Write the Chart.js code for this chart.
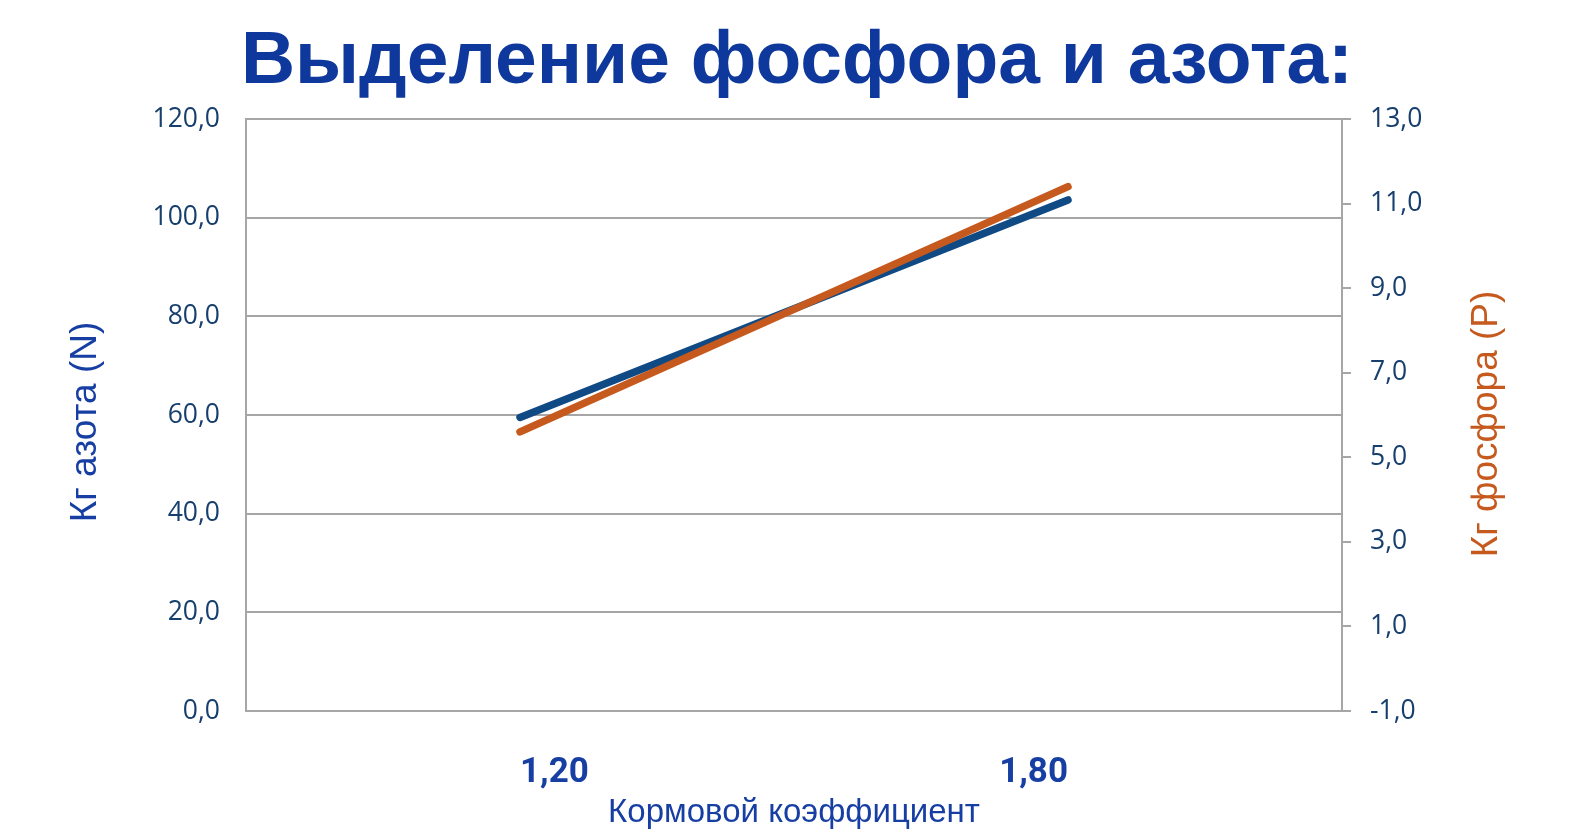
<!DOCTYPE html>
<html>
<head>
<meta charset="utf-8">
<script src="https://cdn.jsdelivr.net/npm/chart.js@4"></script>
<style>
  html, body { margin: 0; padding: 0; background: #ffffff; }
  #wrap { width: 1584px; height: 840px; }
</style>
</head>
<body>
<div id="wrap"><canvas id="c" width="1584" height="840"></canvas></div>
<script>
// ---- data ----
const chartTitle = 'Выделение фосфора и азота:';
const categories = ['1,20', '1,80'];
const nitrogenKg = [59.5, 103.6];
const phosphorusKg = [5.6, 11.4];
const nitrogenLabel = 'Кг азота (N)';
const phosphorusLabel = 'Кг фосфора (Р)';
const xLabel = 'Кормовой коэффициент';
const leftRange = [0, 120, 20];
const rightRange = [-1, 13, 2];

const TITLE_TXT = '#0f389c';
const BLUE_TXT = '#173fa3';
const TICK_TXT = '#173f6e';
const GRID = '#a6a6a6';
const N_COLOR = '#0f4a84';
const P_COLOR = '#c65a1e';

const fmt1 = v => Number(v).toFixed(1).replace('.', ',');

// rotated axis titles (both read bottom-to-top, as in the reference)
const axisTitlePlugin = {
  id: 'axisTitles',
  afterDraw(chart) {
    const ca = chart.chartArea;
    const ctx = chart.ctx;
    const midY = (ca.top + ca.bottom) / 2;
    const draw = (text, x, y, color) => {
      ctx.save();
      ctx.translate(x, y);
      ctx.rotate(-Math.PI / 2);
      ctx.font = '37px "Liberation Sans", Arial, sans-serif';
      ctx.fillStyle = color;
      ctx.textAlign = 'center';
      ctx.textBaseline = 'middle';
      ctx.fillText(text, 0, 0);
      ctx.restore();
    };
    draw(nitrogenLabel, ca.left - 160, midY + 7, BLUE_TXT);
    draw(phosphorusLabel, ca.right + 145, midY + 9, P_COLOR);
  }
};

new Chart(document.getElementById('c'), {
  type: 'line',
  data: {
    labels: categories,
    datasets: [
      {
        label: nitrogenLabel,
        data: nitrogenKg,
        yAxisID: 'y',
        borderColor: N_COLOR,
        backgroundColor: N_COLOR,
        borderWidth: 7.5,
        borderCapStyle: 'round',
        pointRadius: 0,
        tension: 0,
        order: 2
      },
      {
        label: phosphorusLabel,
        data: phosphorusKg,
        yAxisID: 'y2',
        borderColor: P_COLOR,
        backgroundColor: P_COLOR,
        borderWidth: 7.5,
        borderCapStyle: 'round',
        pointRadius: 0,
        tension: 0,
        order: 1
      }
    ]
  },
  options: {
    responsive: false,
    devicePixelRatio: 1,
    animation: false,
    layout: { padding: { left: 10, right: 0, top: 0, bottom: 0 } },
    plugins: {
      legend: { display: false },
      tooltip: { enabled: false },
      title: {
        display: true,
        text: chartTitle,
        color: TITLE_TXT,
        font: { family: '"Liberation Sans", Arial, sans-serif', size: 75, weight: 'bold', lineHeight: 1 },
        padding: { top: 25, bottom: 19 }
      }
    },
    scales: {
      x: {
        type: 'category',
        offset: true,
        grid: { display: false, drawTicks: false },
        border: { display: true, color: GRID, width: 2 },
        ticks: {
          align: 'inner',
          padding: 41,
          color: BLUE_TXT,
          font: { family: 'Roboto, "DejaVu Sans Condensed", Arial, sans-serif', size: 35, weight: 'bold' }
        },
        title: {
          display: true,
          text: xLabel,
          color: BLUE_TXT,
          font: { family: '"Liberation Sans", Arial, sans-serif', size: 33 },
          padding: { top: 0, bottom: 7 }
        },
        afterFit(scale) { scale.height = 129; }
      },
      y: {
        position: 'left',
        min: leftRange[0],
        max: leftRange[1],
        ticks: {
          stepSize: leftRange[2],
          padding: 26,
          color: TICK_TXT,
          font: { family: '"Open Sans", "Noto Sans", sans-serif', size: 26.5 },
          callback: v => fmt1(v)
        },
        grid: { color: GRID, lineWidth: 2, drawTicks: false },
        border: { display: true, color: GRID, width: 2 },
        afterFit(scale) { scale.width = 236; }
      },
      y2: {
        position: 'right',
        min: rightRange[0],
        max: rightRange[1],
        ticks: {
          stepSize: rightRange[2],
          padding: 19,
          color: TICK_TXT,
          font: { family: '"Open Sans", "Noto Sans", sans-serif', size: 26.5 },
          callback: v => fmt1(v)
        },
        grid: { drawOnChartArea: false, drawTicks: true, tickLength: 9, color: GRID, lineWidth: 2 },
        border: { display: true, color: GRID, width: 2 },
        afterFit(scale) { scale.width = 242; }
      }
    }
  },
  plugins: [axisTitlePlugin]
});
</script>
</body>
</html>
